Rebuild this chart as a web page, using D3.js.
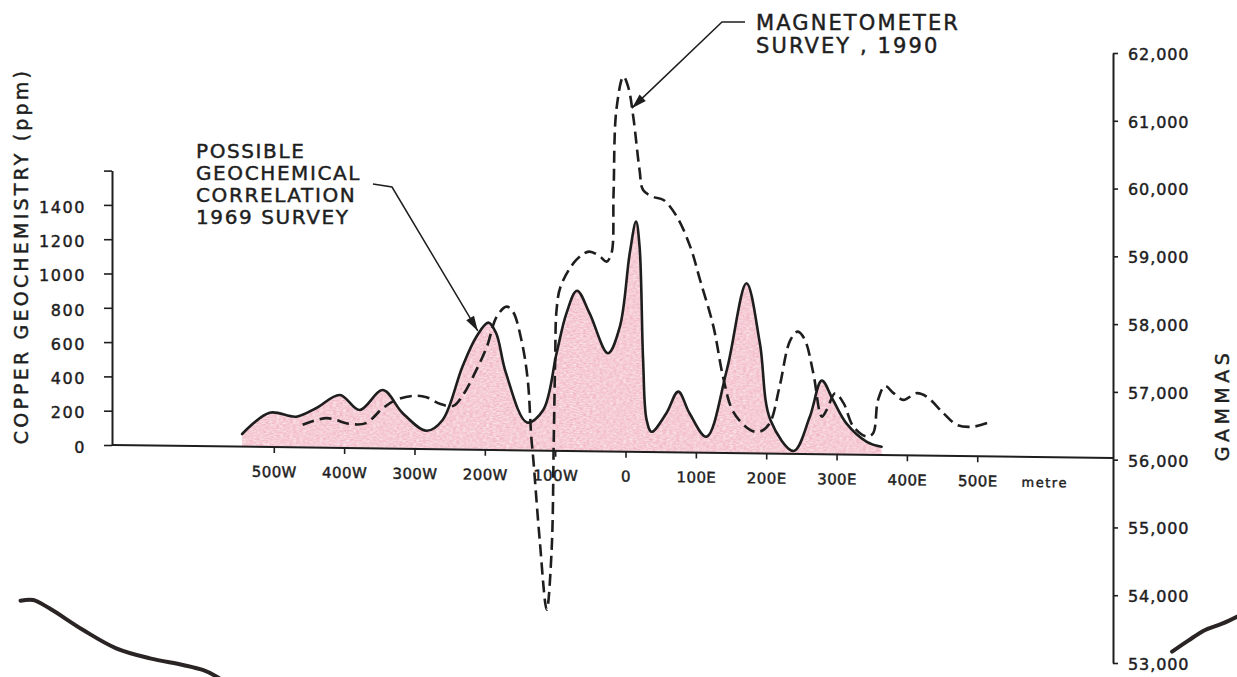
<!DOCTYPE html>
<html>
<head>
<meta charset="utf-8">
<script src="https://cdn.jsdelivr.net/npm/d3@7"></script>
<style>
  html, body { margin: 0; padding: 0; background: #ffffff; }
  svg { display: block; }
  text { font-family: "DejaVu Sans", sans-serif; fill: #1e1e1e; stroke: #1e1e1e; stroke-width: 0.45px; }
</style>
</head>
<body>
<svg id="chart" width="1237" height="677"></svg>
<script>
// Copper in soil, 1969 geochemical survey: station (m, W negative) and ppm
const copperMetres = [-545,-506,-468,-440,-406,-378,-345,-317,-283,-260,-232,-212,-195,-184,-170,-140,-117,-98,-84,-69,-51,-25,-8,6,15,20,25,30,37,58,75,91,115,144,172,191,206,239,262,279,295,314,343,364];
const copperPpm = [74,200,179,230,309,223,341,209,107,171,482,659,742,682,450,163,237,569,802,935,804,573,729,1157,1342,1196,536,187,118,227,354,229,93,484,991,642,196,17,218,429,317,182,76,48];

// Total magnetic field, 1990 magnetometer survey: station (m) and gammas
const magMetres = [-459,-425,-392,-369,-345,-326,-302,-283,-264,-245,-231,-212,-197,-183,-169,-160,-148,-139,-134,-131,-122,-112,-105,-102,-100,-98,-92,-70,-52,-36,-27,-20,-17,-13,-3,4,11,20,25,39,54,73,92,106,125,139,153,177,191,205,219,234,245,255,267,279,286,298,310,324,343,352,359,369,381,395,414,428,452,471,494,516];
const magGammas = [56359,56462,56382,56396,56620,56745,56807,56791,56695,56667,56832,57202,57549,57993,58142,58069,57653,57065,56230,55886,54708,53677,54564,56184,57364,58103,58457,58844,58969,58897,58825,58948,59833,61065,61558,61401,60969,60181,59888,59791,59745,59501,59062,58572,57887,57131,56637,56370,56347,56474,57015,57695,57829,57708,57218,56580,56680,56928,56782,56438,56294,56345,56838,57044,56940,56842,56944,56895,56653,56484,56460,56524];

// Axis ticks and labels
const copperTicks = [0,200,400,600,800,1000,1200,1400,1600];
const gammaTicks = [53000,54000,55000,56000,57000,58000,59000,60000,61000,62000];
const stationTicks = [-500,-400,-300,-200,-100,0,100,200,300,400,500];
const stationLabels = ["500W","400W","300W","200W","100W","0","100E","200E","300E","400E","500E"];

// Fragments of the section drawn beneath the profile (station m, gammas)
const sectionWestMetres = [-860,-842,-819,-771,-724,-676,-629,-601,-581,-574];
const sectionWestGammas = [53919,53930,53807,53487,53217,53069,52971,52897,52798,52749];
const sectionEastMetres = [777,800,824,848,874];
const sectionEastGammas = [53167,53330,53487,53580,53708];

const svg = d3.select("#chart");
const ink = "#1e1e1e";

// Scales
const x = d3.scaleLinear().domain([-730, 693]).range([112, 1113]);
const yCu = d3.scaleLinear().domain([0, 1600]).range([445, 170.6]);
const yMag = d3.scaleLinear().domain([53000, 62000]).range([650, 40]);
const yMagAxis = d3.scaleLinear().domain([53000, 62000]).range([663, 53]);

// The baseline of the profile runs slightly downhill to the east
const slope = 0.013;
const skewDeg = Math.atan(slope) * 180 / Math.PI;
const toPage = (px, py) => [px, py + slope * (px - 112)];

// Pencil-shading texture for the copper fill
const defs = svg.append("defs");
const grain = defs.append("filter").attr("id", "grain")
  .attr("x", 0).attr("y", 0).attr("width", 1).attr("height", 1);
grain.append("feTurbulence").attr("type", "fractalNoise")
  .attr("baseFrequency", "0.3 0.8").attr("numOctaves", 2).attr("seed", 4).attr("result", "noise");
grain.append("feColorMatrix").attr("in", "noise").attr("type", "matrix")
  .attr("values", "0 0 0 0 0  0 0 0 0 0  0 0 0 0 0  0 0 0 -1.2 1.3").attr("result", "mask");
grain.append("feComposite").attr("in", "SourceGraphic").attr("in2", "mask").attr("operator", "in");

const plot = svg.append("g")
  .attr("transform", `translate(112,445) skewY(${skewDeg}) translate(-112,-445)`);

const copper = copperMetres.map((m, i) => ({ m, v: copperPpm[i] }));
const mag = magMetres.map((m, i) => ({ m, v: magGammas[i] }));

// Copper anomaly shading
plot.append("path")
  .datum(copper)
  .attr("d", d3.area().x(d => x(d.m)).y0(yCu(0)).y1(d => yCu(d.v)).curve(d3.curveCatmullRom.alpha(0.5)))
  .attr("fill", "#ec9aad")
  .attr("opacity", 0.72)
  .attr("filter", "url(#grain)");

// X axis (station, metres)
plot.append("line")
  .attr("x1", x.range()[0]).attr("x2", x.range()[1])
  .attr("y1", yCu(0)).attr("y2", yCu(0))
  .attr("stroke", ink).attr("stroke-width", 2);

const xAxis = plot.append("g")
  .attr("transform", `translate(0,${yCu(0)})`)
  .call(d3.axisBottom(x).tickValues(stationTicks).tickSize(6).tickSizeOuter(0)
    .tickFormat((d, i) => stationLabels[i]));
xAxis.select(".domain").remove();
xAxis.selectAll(".tick line").attr("stroke", ink).attr("stroke-width", 1.6);
xAxis.selectAll(".tick text")
  .attr("y", 30).attr("dy", null)
  .attr("font-size", 15).attr("letter-spacing", 0.4);

plot.append("text")
  .attr("x", x(596)).attr("y", yCu(0) + 30)
  .attr("text-anchor", "middle")
  .attr("font-size", 13).attr("letter-spacing", 1.5)
  .text("metre");

// Copper profile
plot.append("path")
  .datum(copper)
  .attr("d", d3.line().x(d => x(d.m)).y(d => yCu(d.v)).curve(d3.curveCatmullRom.alpha(0.5)))
  .attr("fill", "none").attr("stroke", ink).attr("stroke-width", 2.6)
  .attr("stroke-linejoin", "round").attr("stroke-linecap", "round");

// Magnetometer profile
plot.append("path")
  .datum(mag)
  .attr("d", d3.line().x(d => x(d.m)).y(d => yMag(d.v)).curve(d3.curveCatmullRom.alpha(0.5)))
  .attr("fill", "none").attr("stroke", ink).attr("stroke-width", 2.6)
  .attr("stroke-dasharray", "12 6");

// Left axis: copper ppm
const leftAxis = svg.append("g")
  .attr("transform", `translate(${x.range()[0]},0)`)
  .call(d3.axisLeft(yCu).tickValues(copperTicks).tickSize(8).tickSizeOuter(0)
    .tickFormat(d => d === 1600 ? "" : d));
leftAxis.select(".domain").attr("stroke", ink).attr("stroke-width", 2);
leftAxis.selectAll(".tick line").attr("stroke", ink).attr("stroke-width", 1.6);
leftAxis.selectAll(".tick text")
  .attr("x", -26).attr("dy", "0.45em")
  .attr("font-size", 16).attr("letter-spacing", 1.6);

// Right axis: gammas
const rightAxis = svg.append("g")
  .attr("transform", `translate(${x.range()[1]},0)`)
  .call(d3.axisRight(yMagAxis).tickValues(gammaTicks).tickSize(5).tickSizeOuter(0)
    .tickFormat(d3.format(",")));
rightAxis.select(".domain").attr("stroke", ink).attr("stroke-width", 2);
rightAxis.selectAll(".tick line").attr("stroke", ink).attr("stroke-width", 1.6);
rightAxis.selectAll(".tick text")
  .attr("x", 15).attr("dy", "0.4em")
  .attr("font-size", 16).attr("letter-spacing", 0.9);

// Axis titles
svg.append("text")
  .attr("transform", "translate(28,256) rotate(-90)")
  .attr("text-anchor", "middle")
  .attr("font-size", 19).attr("letter-spacing", 3.2)
  .text("COPPER GEOCHEMISTRY (ppm)");

svg.append("text")
  .attr("transform", "translate(1229,405) rotate(-90)")
  .attr("text-anchor", "middle")
  .attr("font-size", 19).attr("letter-spacing", 4.5)
  .text("GAMMAS");

// Callouts
function arrowHead(tip, from, len, half) {
  const dx = tip[0] - from[0], dy = tip[1] - from[1];
  const d = Math.hypot(dx, dy), ux = dx / d, uy = dy / d;
  const bx = tip[0] - ux * len, by = tip[1] - uy * len;
  return [[tip[0], tip[1]], [bx - uy * half, by + ux * half], [bx + uy * half, by - ux * half]];
}

function callout(lines, tx, ty, lineGap, size, spacing, leader, tip) {
  const t = svg.append("text").attr("font-size", size).attr("letter-spacing", spacing);
  lines.forEach((s, i) => t.append("tspan").attr("x", tx).attr("y", ty + i * lineGap).text(s));
  const pts = leader.concat([tip]);
  svg.append("path")
    .attr("d", d3.line()(pts))
    .attr("fill", "none").attr("stroke", ink).attr("stroke-width", 1.5);
  svg.append("path")
    .attr("d", d3.line()(arrowHead(tip, leader[leader.length - 1], 15, 4.5)) + "Z")
    .attr("fill", ink);
}

const geoTip = toPage(x(-210), yCu(693));
callout(["POSSIBLE", "GEOCHEMICAL", "CORRELATION", "1969 SURVEY"], 196, 158, 22, 20, 1.6,
  [[373, 184], [392, 187]], geoTip);

const magTip = toPage(x(9), yMag(61094));
callout(["MAGNETOMETER", "SURVEY , 1990"], 756, 30, 23, 21, 2.1,
  [[745, 22], [722, 22]], magTip);

// Section fragments below
const sectionLine = d3.line().x(d => x(d.m)).y(d => yMagAxis(d.v)).curve(d3.curveCatmullRom.alpha(0.5));
[[sectionWestMetres, sectionWestGammas], [sectionEastMetres, sectionEastGammas]].forEach(([ms, gs]) => {
  svg.append("path")
    .datum(ms.map((m, i) => ({ m, v: gs[i] })))
    .attr("d", sectionLine)
    .attr("fill", "none").attr("stroke", "#2a2424").attr("stroke-width", 4)
    .attr("stroke-linecap", "round");
});
</script>
</body>
</html>
